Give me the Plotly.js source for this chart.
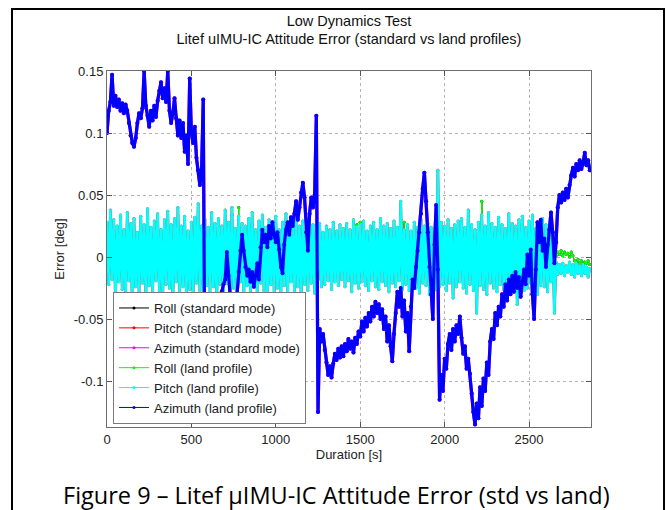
<!DOCTYPE html>
<html>
<head>
<meta charset="utf-8">
<script src="https://cdn.plot.ly/plotly-3.0.1.min.js"></script>
<style>
html, body { margin: 0; padding: 0; background: #ffffff; }
#chart { width: 667px; height: 510px; }
</style>
</head>
<body>
<div id="chart"></div>
<script>
// ---- data ----
const sampleStepSeconds = 10;

// Pitch (land profile) - cyan
const pitchLand = [
  0.028, -0.022, 0.038, -0.018, 0.030, -0.035, 0.025, -0.020, 0.034, -0.026,
  0.022, -0.030, 0.036, -0.019, 0.027, -0.041, 0.031, -0.024, 0.020, -0.028,
  0.033, -0.021, 0.026, -0.036, 0.039, -0.023, 0.024, -0.030, 0.029, -0.019,
  0.035, -0.027, 0.022, -0.033, 0.030, -0.022, 0.037, -0.025, 0.026, -0.038,
  0.031, -0.020, 0.040, -0.028, 0.025, -0.024, 0.033, -0.031, 0.021, -0.026,
  0.028, -0.034, 0.032, -0.021, 0.043, -0.027, 0.025, -0.030, 0.030, -0.023,
  0.024, -0.029, 0.036, -0.024, 0.027, -0.036, 0.031, -0.022, 0.025, -0.030,
  0.038, -0.021, 0.028, -0.031, 0.040, -0.025, 0.023, -0.028, 0.033, -0.020,
  0.027, -0.034, 0.025, -0.023, 0.031, -0.029, 0.036, -0.024, 0.022, -0.032,
  0.029, -0.021, 0.034, -0.027, 0.024, -0.035, 0.030, -0.022, 0.026, -0.029,
  0.033, -0.025, 0.022, -0.030, 0.028, -0.023, 0.035, -0.031, 0.024, -0.020,
  0.027, -0.028, 0.031, -0.024, 0.025, -0.033, 0.029, -0.022, 0.023, -0.027,
  0.030, -0.021, 0.026, -0.029, 0.024, -0.018, 0.027, -0.024, 0.020, -0.022,
  0.025, -0.019, 0.022, -0.026, 0.028, -0.020, 0.021, -0.023, 0.026, -0.018,
  0.023, -0.024, 0.027, -0.019, 0.022, -0.028, 0.030, -0.021, 0.024, -0.025,
  0.026, -0.020, 0.029, -0.023, 0.021, -0.027, 0.025, -0.019, 0.028, -0.024,
  0.022, -0.026, 0.031, -0.020, 0.025, -0.023, 0.027, -0.028, 0.023, -0.021,
  0.029, -0.024, 0.024, -0.019, 0.045, -0.026, 0.022, -0.022, 0.026, -0.027,
  0.021, -0.020, 0.028, -0.025, 0.024, -0.029, 0.030, -0.021, 0.025, -0.023,
  0.027, -0.030, 0.024, -0.048, 0.022, -0.026, 0.070, -0.024, 0.028, -0.022,
  0.025, -0.027, 0.030, -0.021, 0.023, -0.033, 0.026, -0.024, 0.029, -0.020,
  0.031, -0.025, 0.024, -0.029, 0.038, -0.022, 0.026, -0.027, 0.022, -0.045,
  0.028, -0.023, 0.034, -0.026, 0.025, -0.030, 0.036, -0.021, 0.027, -0.025,
  0.024, -0.028, 0.032, -0.022, 0.026, -0.026, 0.023, -0.031, 0.035, -0.020,
  0.027, -0.024, 0.025, -0.038, 0.030, -0.022, 0.033, -0.027, 0.024, -0.025,
  0.029, -0.021, 0.034, -0.026, 0.023, -0.030, 0.028, -0.023, 0.031, -0.024,
  0.026, -0.028, 0.022, -0.020, 0.018, -0.045, -0.004, -0.014, -0.006, -0.013,
  -0.005, -0.015, -0.007, -0.012, -0.004, -0.014, -0.006, -0.016, -0.005, -0.013,
  -0.007, -0.015, -0.006, -0.013, -0.008, -0.016, -0.009
];

// Roll (land profile) - green
const rollLand = [
  0.008, -0.007, 0.010, -0.011, 0.006, -0.009, 0.009, -0.012, 0.007, -0.010,
  0.008, -0.011, 0.006, -0.009, 0.010, -0.008, 0.009, -0.012, 0.006, -0.009,
  0.009, -0.010, 0.007, -0.012, 0.008, -0.009, 0.011, -0.008, 0.006, -0.010,
  0.008, -0.012, 0.008, -0.009, 0.010, -0.011, 0.007, -0.009, 0.009, -0.012,
  0.006, -0.010, 0.009, -0.013, 0.008, -0.009, 0.010, -0.011, 0.007, -0.009,
  0.010, -0.012, 0.009, -0.009, 0.007, -0.010, 0.009, -0.013, 0.008, -0.010,
  0.009, -0.011, 0.006, -0.009, 0.010, -0.012, 0.008, -0.010, 0.009, -0.011,
  0.007, -0.010, 0.009, -0.009, 0.034, -0.012, 0.010, -0.008, 0.040, -0.011,
  0.009, -0.010, 0.008, -0.013, 0.009, -0.009, 0.010, -0.011, 0.007, -0.012,
  0.008, -0.010, 0.010, -0.009, 0.006, -0.012, 0.009, -0.010, 0.008, -0.011,
  0.009, -0.012, 0.007, -0.010, 0.009, -0.009, 0.010, -0.012, 0.008, -0.008,
  0.007, -0.011, 0.009, -0.010, 0.008, -0.013, 0.009, -0.010, 0.010, -0.009,
  0.009, -0.012, 0.006, -0.010, 0.009, -0.008, 0.008, -0.011, 0.007, -0.010,
  0.008, -0.009, 0.010, -0.012, 0.007, -0.010, 0.009, -0.009, 0.009, -0.011,
  0.009, -0.010, 0.007, -0.012, 0.009, -0.010, 0.008, -0.009, 0.026, -0.011,
  0.028, -0.008, 0.009, -0.011, 0.009, -0.010, 0.010, -0.012, 0.008, -0.009,
  0.009, -0.010, 0.012, -0.010, 0.009, -0.011, 0.012, -0.009, 0.008, -0.012,
  0.009, -0.010, 0.007, -0.012, 0.030, -0.009, 0.028, -0.011, 0.010, -0.010,
  0.009, -0.012, 0.007, -0.010, 0.009, -0.011, 0.008, -0.010, 0.012, -0.009,
  0.008, -0.011, 0.009, -0.010, 0.009, -0.012, 0.007, -0.010, 0.010, -0.009,
  0.012, -0.010, 0.009, -0.010, 0.008, -0.012, 0.009, -0.011, 0.007, -0.010,
  0.009, -0.012, 0.010, -0.010, 0.008, -0.011, 0.009, -0.010, 0.007, -0.012,
  0.009, -0.010, 0.045, -0.011, 0.008, -0.010, 0.010, -0.012, 0.012, -0.010,
  0.008, -0.011, 0.009, -0.010, 0.007, -0.010, 0.009, -0.012, 0.009, -0.010,
  0.009, -0.012, 0.008, -0.010, 0.009, -0.011, 0.007, -0.010, 0.010, -0.009,
  0.009, -0.011, 0.008, -0.012, 0.009, -0.010, 0.007, -0.010, 0.009, -0.011,
  0.008, -0.010, 0.009, -0.009, 0.006, 0.004, 0.001, 0.004, 0.002, 0.005,
  0.001, 0.004, 0.002, 0.003, 0.000, 0.004, 0.001, -0.003, -0.004, -0.002,
  -0.005, -0.003, -0.006, -0.004, -0.005, -0.003, -0.006
];

// Azimuth (land profile) - blue
const azimuthLand = [
  0.100, 0.118, 0.125, 0.147, 0.122, 0.130, 0.121, 0.127, 0.118, 0.124,
  0.116, 0.123, 0.118, 0.108, 0.098, 0.092, 0.089, 0.096, 0.108, 0.116,
  0.112, 0.120, 0.150, 0.122, 0.114, 0.105, 0.118, 0.110, 0.122, 0.113,
  0.126, 0.134, 0.141, 0.128, 0.136, 0.125, 0.150, 0.118, 0.108, 0.116,
  0.128, 0.112, 0.098, 0.110, 0.096, 0.108, 0.085, 0.098, 0.075, 0.144,
  0.100, 0.092, 0.105, 0.080, 0.070, 0.058, 0.068, 0.127, -0.112, -0.060,
  -0.052, -0.048, -0.042, -0.046, -0.038, -0.035, -0.040, -0.032, -0.028, -0.022,
  -0.018, 0.004, -0.015, -0.035, -0.050, -0.040, -0.045, -0.030, -0.012, 0.005,
  0.018, 0.005, -0.008, -0.015, -0.010, -0.020, -0.012, -0.024, -0.015, -0.005,
  -0.018, 0.008, 0.022, 0.012, 0.018, 0.008, 0.025, 0.015, 0.028, 0.018,
  0.012, 0.020, 0.006, -0.008, -0.013, 0.010, 0.022, 0.028, 0.018, 0.032,
  0.025, 0.035, 0.045, 0.030, 0.040, 0.052, 0.060, 0.048, 0.020, 0.005,
  0.035, 0.048, 0.040, 0.050, 0.114, -0.125, -0.058, -0.068, -0.062, -0.075,
  -0.085, -0.095, -0.088, -0.097, -0.086, -0.078, -0.083, -0.074, -0.081, -0.072,
  -0.080, -0.070, -0.076, -0.066, -0.074, -0.068, -0.077, -0.065, -0.070, -0.060,
  -0.064, -0.052, -0.060, -0.049, -0.056, -0.045, -0.052, -0.040, -0.048, -0.036,
  -0.045, -0.038, -0.050, -0.042, -0.058, -0.048, -0.068, -0.055, -0.072, -0.084,
  -0.062, -0.045, -0.028, -0.040, -0.025, -0.048, -0.035, -0.060, -0.045, -0.076,
  -0.040, -0.018, -0.025, -0.008, 0.005, 0.020, 0.035, 0.055, 0.068, 0.045,
  0.020, -0.008, -0.030, -0.050, 0.010, 0.042, -0.010, -0.115, -0.095, -0.108,
  -0.082, -0.090, -0.070, -0.062, -0.075, -0.058, -0.068, -0.055, -0.062, -0.048,
  -0.065, -0.078, -0.072, -0.090, -0.082, -0.094, -0.110, -0.125, -0.135, -0.118,
  -0.130, -0.105, -0.120, -0.098, -0.108, -0.085, -0.095, -0.068, -0.058, -0.066,
  -0.045, -0.055, -0.040, -0.048, -0.030, -0.040, -0.022, -0.035, -0.018, -0.030,
  -0.015, -0.028, -0.012, -0.025, -0.016, -0.032, -0.020, -0.010, -0.022, 0.002,
  -0.015, 0.006, -0.030, -0.050, -0.010, 0.028, 0.012, 0.030, 0.005, 0.015,
  -0.008, 0.010, 0.022, 0.036, 0.020, -0.005, 0.012, 0.040, 0.050, 0.044,
  0.052, 0.046, 0.055, 0.048, 0.058, 0.066, 0.072, 0.065, 0.075, 0.070,
  0.078, 0.071, 0.076, 0.084, 0.074, 0.078, 0.070
];

// Standard-mode curves coincide with the land-profile curves and are hidden beneath them
const rollStandard = rollLand;
const pitchStandard = pitchLand;
const azimuthStandard = azimuthLand;

const seriesNames = [
  'Roll (standard mode)', 'Pitch (standard mode)', 'Azimuth (standard mode)',
  'Roll (land profile)', 'Pitch (land profile)', 'Azimuth (land profile)'
];
const seriesValues = [rollStandard, pitchStandard, azimuthStandard, rollLand, pitchLand, azimuthLand];
const seriesColors = ['#000000', '#ff0000', '#ff00ff', '#00ff00', '#00ffff', '#0000ff'];

const xTickValues = [0, 500, 1000, 1500, 2000, 2500];
const xTickLabels = ['0', '500', '1000', '1500', '2000', '2500'];
const yTickValues = [-0.1, -0.05, 0, 0.05, 0.1, 0.15];
const yTickLabels = ['-0.1', '-0.05', '0', '0.05', '0.1', '0.15'];

const titleLines = ['Low Dynamics Test', 'Litef uIMU-IC Attitude Error (standard vs land profiles)'];
const xAxisTitle = 'Duration [s]';
const yAxisTitle = 'Error [deg]';
const captionText = 'Figure 9 \u2013 Litef \u00b5IMU-IC Attitude Error (std vs land)';

// ---- build chart ----
const FONT = '"Liberation Sans", Arial, Helvetica, sans-serif';
// dense, noisy records: drawn with heavier strokes so they read as solid bands
const lineWidths = [1, 2.6, 3.2, 1, 2.6, 3.2];
const markerSizes = [3, 3, 4, 3, 3, 4];

const dataTraces = seriesValues.map((vals, k) => ({
  type: 'scatter',
  mode: 'lines+markers',
  name: seriesNames[k],
  legendgroup: 's' + k,
  showlegend: false,
  x: vals.map((_, i) => i * sampleStepSeconds),
  y: vals,
  line: { color: seriesColors[k], width: lineWidths[k] },
  marker: { color: seriesColors[k], size: markerSizes[k] },
  hoverinfo: 'skip'
}));

// legend keys (thin line with a dot, as in the original figure); they hold no plotted value
const legendKeys = seriesNames.map((name, k) => ({
  type: 'scatter',
  mode: 'lines+markers',
  name: name,
  legendgroup: 's' + k,
  showlegend: true,
  x: [null],
  y: [null],
  line: { color: seriesColors[k], width: 1 },
  marker: { color: seriesColors[k], size: 3 },
  hoverinfo: 'skip'
}));

const axisCommon = {
  ticks: 'inside',
  ticklen: 5,
  tickcolor: '#555555',
  showline: true,
  linecolor: '#6e6e6e',
  linewidth: 1,
  mirror: 'ticks',
  showgrid: true,
  gridcolor: '#b4b4b4',
  griddash: 'dot',
  gridwidth: 1,
  zeroline: false,
  tickfont: { family: FONT, size: 13, color: '#222222' },
  fixedrange: true
};

const layout = {
  width: 667,
  height: 510,
  margin: { l: 107, r: 76, t: 71, b: 83 },
  paper_bgcolor: '#ffffff',
  plot_bgcolor: '#ffffff',
  showlegend: true,
  title: {
    text: titleLines.join('<br>'),
    font: { family: FONT, size: 14.5, color: '#111111' },
    x: 0.5, xref: 'paper', xanchor: 'center',
    y: 1 - 25.5 / 510, yref: 'container', yanchor: 'middle'
  },
  xaxis: Object.assign({}, axisCommon, {
    range: [0, 2867],
    tickvals: xTickValues,
    ticktext: xTickLabels,
    title: { text: xAxisTitle, font: { family: FONT, size: 13, color: '#222222' }, standoff: 3 }
  }),
  yaxis: Object.assign({}, axisCommon, {
    range: [-0.137, 0.15],
    tickvals: yTickValues,
    ticktext: yTickLabels,
    title: { text: yAxisTitle, font: { family: FONT, size: 13, color: '#222222' }, standoff: 6 }
  }),
  legend: {
    x: 0.0124, y: 0.0084, xanchor: 'left', yanchor: 'bottom',
    bgcolor: '#ffffff', bordercolor: '#7a7a7a', borderwidth: 1,
    font: { family: FONT, size: 13, color: '#222222' },
    tracegroupgap: 0
  },
  annotations: [{
    text: captionText,
    xref: 'paper', yref: 'paper',
    x: (336.5 - 107) / 484, y: (427 - 495) / 356,
    xanchor: 'center', yanchor: 'middle',
    showarrow: false,
    font: { family: '"Open Sans", "Noto Sans", sans-serif', size: 23.5, color: '#000000' }
  }],
  shapes: [{
    type: 'rect', xref: 'paper', yref: 'paper',
    x0: (12 - 107) / 484, x1: (664 - 107) / 484,
    y0: (427 - 9) / 356, y1: (427 - 530) / 356,
    line: { color: '#000000', width: 2 },
    fillcolor: 'rgba(0,0,0,0)',
    layer: 'above'
  }],
  hovermode: false
};

Plotly.newPlot('chart', dataTraces.concat(legendKeys), layout, { displayModeBar: false, staticPlot: true });
</script>
</body>
</html>
